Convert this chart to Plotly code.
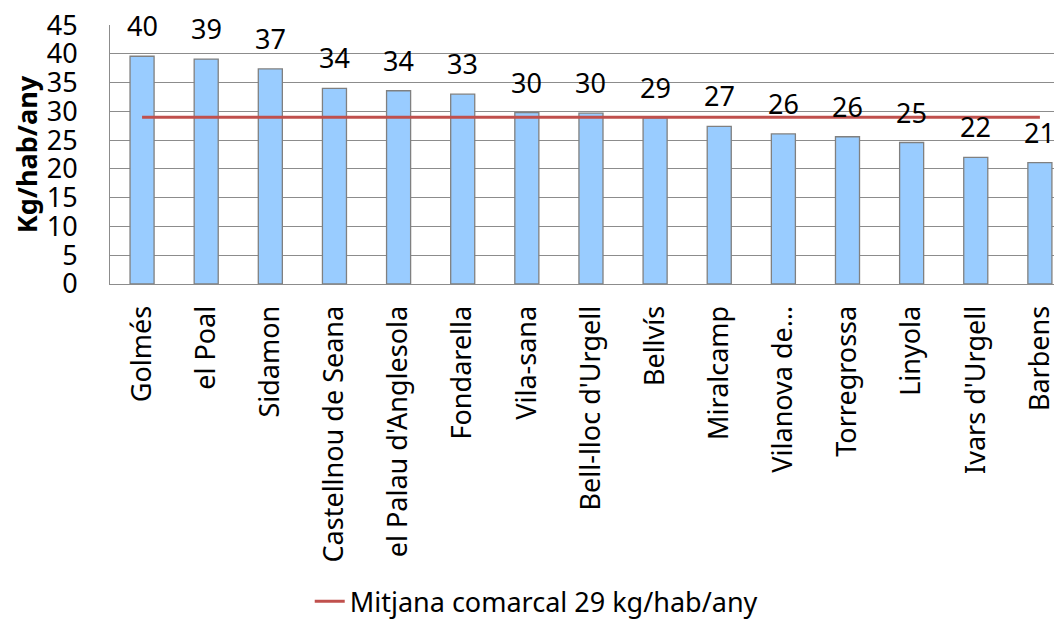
import plotly.graph_objects as go

categories = ["Golmés", "el Poal", "Sidamon", "Castellnou de Seana", "el Palau d'Anglesola",
              "Fondarella", "Vila-sana", "Bell-lloc d'Urgell", "Bellvís", "Miralcamp",
              "Vilanova de…", "Torregrossa", "Linyola", "Ivars d'Urgell", "Barbens"]
values = [39.6, 39.1, 37.4, 34.0, 33.6, 33.0, 29.8, 29.7, 28.9, 27.4, 26.1, 25.6, 24.6, 22.0, 21.1]
average = 29
avg_name = "Mitjana comarcal 29 kg/hab/any"
y_max = 45
y_step = 5

FONT = "Noto Sans"
GRID = "#8c8c8c"

fig = go.Figure()
fig.add_trace(go.Bar(
    x=categories, y=values, showlegend=False,
    marker=dict(color="#99CCFF", line=dict(color="#808080", width=1.3)),
    hoverinfo="x+y",
))
fig.add_trace(go.Scatter(
    x=categories, y=[average] * len(categories), mode="lines", name=avg_name,
    line=dict(color="#C0504D", width=3),
))

for c, v in zip(categories, values):
    fig.add_annotation(x=c, y=v, text=str(round(v)), showarrow=False,
                       yanchor="bottom", yshift=10,
                       font=dict(family=FONT, size=27, color="#000000"))

fig.update_layout(
    width=1046, height=612,
    margin=dict(l=102, r=0, t=17, b=336),
    plot_bgcolor="white", paper_bgcolor="white",
    bargap=0.625,
    font=dict(family=FONT, color="#000000"),
    legend=dict(orientation="h", xref="container", yref="container",
                x=0.505, xanchor="center", y=0.03, yanchor="middle",
                font=dict(family=FONT, size=27, color="#000000")),
)
fig.update_xaxes(
    type="category", range=[-0.5, 14.22], tickangle=-90, automargin=False,
    tickfont=dict(family=FONT, size=27, color="#000000"),
    showline=True, linecolor=GRID, linewidth=1, showgrid=False,
    ticks="", ticklabelstandoff=10,
)
fig.update_yaxes(
    range=[0, y_max + 0.03], tickmode="linear", tick0=0, dtick=y_step, automargin=False,
    tickfont=dict(family=FONT, size=27, color="#000000"),
    showline=True, linecolor=GRID, linewidth=1,
    showgrid=True, gridcolor=GRID, gridwidth=1,
    ticks="", ticklabelstandoff=26, zeroline=False,
    ticklabeloverflow="allow",
    title=dict(text="<b>Kg/hab/any</b>", font=dict(family=FONT, size=27, color="#000000"), standoff=7),
)

fig.write_html("out.html")
